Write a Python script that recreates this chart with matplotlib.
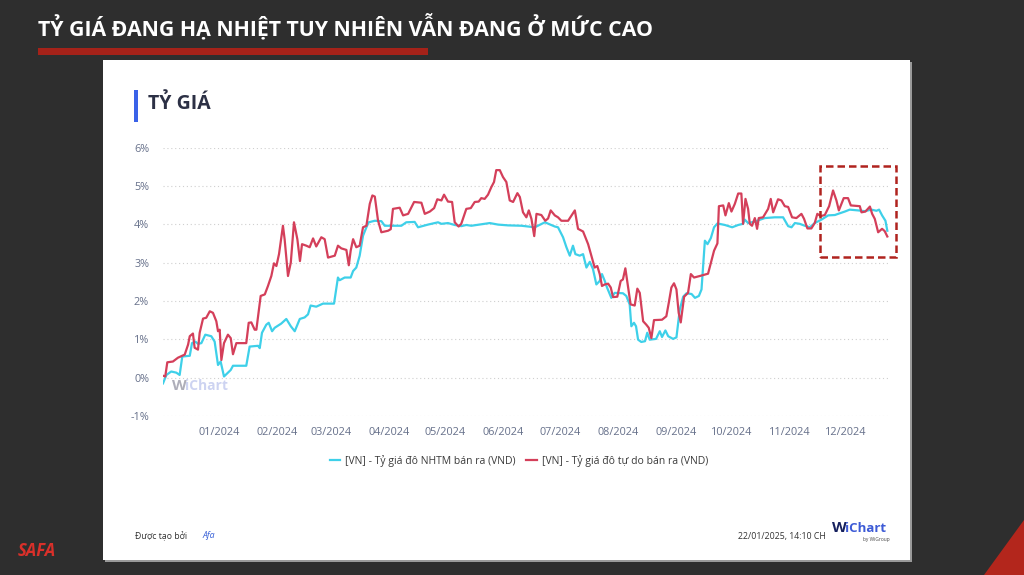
import numpy as np
import pandas as pd
import matplotlib
matplotlib.use("Agg")
import matplotlib.pyplot as plt
import matplotlib.dates as mdates
from matplotlib.patches import Rectangle, Polygon

plt.rcParams['font.family'] = ['Open Sans', 'DejaVu Sans']

# ngày tính từ 02/12/2023
start = pd.Timestamp('2023-12-02')

# [VN] - Tỷ giá đô tự do bán ra (VND), % thay đổi
tudo_days = [0, 1.2, 2.3, 5.3, 8.0, 11.6, 13.4, 14.3, 16.0, 16.9, 18.7, 19.6, 21.4, 23.1, 25.0,
             26.7, 28.5, 29.4, 30.3, 31.2, 32.6, 34.7, 36.2, 37.4, 39.2, 44.5, 45.8, 47.2, 49.0,
             49.9, 52.2, 54.4, 56.1, 57.9, 59.3, 60.6, 62.0, 64.1, 65.0, 66.8, 68.3, 70.0, 71.8,
             73.2, 74.3, 76.6, 78.4, 80.2, 81.9, 84.6, 86.4, 88.2, 91.8, 93.5, 95.3, 98.0, 99.3,
             100.3, 101.6, 103.3, 105.1, 106.9, 108.7, 110.5, 111.9, 113.2, 114.9, 116.7, 120.3,
             121.7, 122.9, 126.5, 128.3, 131.0, 134.2, 138.1, 139.9, 142.6, 144.9, 146.6, 148.8,
             150.2, 152.3, 154.5, 155.9, 158.0, 159.4, 162.1, 164.5, 166.6, 168.7, 170.1, 171.9,
             173.7, 175.5, 176.9, 178.1, 180.0, 181.7, 183.5, 185.3, 187.1, 189.4, 190.7, 192.4,
             194.2, 195.5, 196.9, 198.4, 199.6, 202.2, 204.3, 205.8, 207.2, 209.4, 211.1, 212.9,
             216.5, 220.1, 221.8, 224.5, 227.2, 228.9, 230.7, 232.1, 233.4, 234.6, 236.1, 237.9,
             239.3, 240.5, 242.8, 244.6, 245.8, 247.1, 248.1, 249.9, 252.1, 253.5, 254.8, 256.6,
             258.3, 259.6, 261.0, 262.4, 266.7, 269.0, 270.3, 271.7, 273.1, 274.4, 275.6, 276.7,
             278.5, 280.6, 282.1, 283.8, 286.9, 291.3, 294.5, 296.3, 297.1, 299.4, 300.6, 302.4,
             303.8, 305.6, 307.4, 309.1, 310.0, 311.3, 312.7, 313.6, 314.8, 316.3, 317.5, 318.4,
             320.7, 323.4, 324.8, 326.1, 328.7, 330.5, 332.3, 334.1, 336.2, 338.5, 341.2, 342.6,
             344.4, 346.5, 348.3, 349.7, 351.5, 353.7, 356.0, 358.1, 359.9, 361.2, 363.8, 366.1,
             367.6, 372.4, 373.3, 375.4, 377.8, 379.0, 380.4, 382.2, 384.3, 385.7, 387.1]
tudo_values = [0.05, 0.03, 0.40, 0.42, 0.52, 0.60, 0.86, 1.08, 1.15, 0.78, 0.73, 1.17, 1.54, 1.56, 1.73,
               1.69, 1.47, 1.21, 1.25, 0.46, 0.90, 1.12, 1.03, 0.61, 0.90, 0.90, 1.43, 1.44, 1.25,
               1.25, 2.13, 2.17, 2.39, 2.65, 2.98, 2.91, 3.22, 3.96, 3.61, 2.65, 3.00, 4.05, 3.61,
               3.04, 3.48, 3.44, 3.40, 3.63, 3.42, 3.66, 3.61, 3.13, 3.18, 3.44, 3.37, 3.33, 2.93,
               3.31, 3.61, 3.40, 3.44, 3.92, 3.96, 4.53, 4.75, 4.72, 4.10, 3.79, 3.83,
               3.87, 4.40, 4.43, 4.23, 4.27, 4.58, 4.56, 4.27, 4.33, 4.42, 4.65, 4.62,
               4.77, 4.59, 4.58, 4.05, 3.94, 4.01, 4.40, 4.42, 4.58, 4.59, 4.68, 4.66,
               4.77, 4.97, 5.10, 5.41, 5.41, 5.23, 5.10, 4.62, 4.58, 4.81, 4.71, 4.31,
               4.18, 4.36, 4.14, 3.69, 4.27, 4.24, 4.09, 4.15, 4.36, 4.23, 4.18, 4.09,
               4.09, 4.36, 3.88, 3.81, 3.48, 3.18, 2.87, 2.91, 2.70, 2.39, 2.43, 2.45,
               2.35, 2.10, 2.11, 2.52, 2.56, 2.85, 2.52, 1.91, 1.88, 2.32, 2.21, 1.47,
               1.38, 1.30, 1.03, 1.50, 1.51, 1.60, 1.95, 2.35, 2.46, 2.30, 1.69, 1.44,
               2.11, 2.21, 2.70, 2.61, 2.65, 2.71, 3.31, 3.50, 4.47, 4.49, 4.23, 4.55,
               4.33, 4.53, 4.80, 4.80, 4.01, 4.66, 4.40, 4.01, 3.96, 4.16, 3.88, 4.16,
               4.18, 4.40, 4.66, 4.31, 4.65, 4.62, 4.47, 4.45, 4.18, 4.16, 4.27, 4.14,
               3.89, 3.89, 4.03, 4.27, 4.21, 4.24, 4.47, 4.88, 4.62, 4.36, 4.68, 4.68,
               4.49, 4.47, 4.31, 4.33, 4.46, 4.27, 4.14, 3.79, 3.88, 3.82, 3.68]

# [VN] - Tỷ giá đô NHTM bán ra (VND), % thay đổi
nhtm_days = [0, 1.8, 4.4, 7.1, 8.9, 10.3, 14.3, 15.5, 17.3, 18.7, 20.5, 22.6, 25.8, 27.6, 29.4,
             30.8, 32.6, 34.7, 36.2, 37.4, 44.5, 46.3, 50.8, 51.7, 52.9, 55.2, 56.5, 58.3, 59.7,
             63.2, 65.9, 68.3, 70.4, 73.1, 75.7, 77.5, 78.9, 81.9, 85.5, 91.4, 93.5, 94.4, 97.1,
             100.3, 101.6, 103.3, 105.1, 106.9, 108.7, 109.9, 113.2, 116.7, 118.5, 127.4, 130.0,
             134.5, 136.3, 141.6, 147.0, 148.8, 152.3, 155.9, 159.4, 162.1, 164.8, 174.6, 179.1,
             184.4, 191.6, 198.7, 204.1, 209.4, 211.1, 213.8, 215.6, 217.4, 219.1, 220.4, 222.7,
             224.5, 226.3, 228.1, 229.8, 231.6, 233.4, 234.6, 236.1, 237.3, 239.6, 241.4, 245.8,
             247.6, 249.4, 250.3, 251.7, 252.8, 253.9, 255.6, 257.6, 258.8, 260.1, 263.5, 265.5,
             266.7, 268.5, 270.0, 272.6, 274.4, 276.2, 278.0, 279.8, 282.5, 284.3, 286.4, 287.8,
             289.6, 291.0, 292.8, 294.5, 296.3, 300.3, 304.2, 307.4, 310.0, 310.9, 312.7, 316.3,
             321.6, 327.0, 331.4, 332.7, 334.1, 335.9, 337.7, 340.3, 343.0, 345.7, 348.3, 351.9,
             355.5, 359.1, 360.8, 364.4, 367.0, 371.5, 375.1, 378.6, 381.3, 382.7, 384.3, 386.1,
             387.1]
nhtm_values = [-0.15, 0.07, 0.16, 0.13, 0.07, 0.55, 0.57, 0.90, 0.94, 0.88, 0.90, 1.12, 1.08, 0.94, 0.33,
               0.42, 0.03, 0.13, 0.20, 0.31, 0.31, 0.81, 0.83, 0.77, 1.17, 1.38, 1.43, 1.21, 1.30,
               1.41, 1.53, 1.34, 1.21, 1.53, 1.57, 1.65, 1.88, 1.85, 1.93, 1.93, 2.61, 2.54, 2.61,
               2.61, 2.78, 2.87, 3.18, 3.70, 3.92, 4.05, 4.09, 4.08, 3.96, 3.96, 4.05,
               4.06, 3.92, 3.99, 4.05, 4.01, 4.03, 3.98, 3.95, 3.98, 3.96, 4.03, 3.99,
               3.97, 3.96, 3.92, 4.05, 3.94, 3.92, 3.66, 3.40, 3.18, 3.44, 3.22, 3.18,
               3.22, 2.87, 3.02, 2.83, 2.43, 2.52, 2.70, 2.52, 2.35, 2.08, 2.21, 2.20,
               2.13, 1.91, 1.34, 1.43, 1.34, 0.99, 0.93, 0.95, 1.17, 0.99, 1.01, 1.21,
               1.06, 1.23, 1.08, 1.01, 1.05, 1.78, 2.11, 2.20, 2.18, 2.08, 2.13, 2.30,
               3.57, 3.48, 3.64, 3.92, 4.02, 3.98, 3.92, 3.98, 4.01, 4.12, 4.03, 4.07,
               4.16, 4.18, 4.18, 4.07, 3.95, 3.92, 4.03, 4.01, 3.96, 3.92, 4.03, 4.12,
               4.23, 4.24, 4.27, 4.33, 4.38, 4.36, 4.34, 4.38, 4.35, 4.38, 4.23, 4.09,
               3.83]

nhtm_label = '[VN] - Tỷ giá đô NHTM bán ra (VND)'
tudo_label = '[VN] - Tỷ giá đô tự do bán ra (VND)'

tudo_dates = start + pd.to_timedelta(tudo_days, unit='D')
nhtm_dates = start + pd.to_timedelta(nhtm_days, unit='D')

W, H = 1024, 575
fig = plt.figure(figsize=(W / 100, H / 100), dpi=100)
fig.patch.set_facecolor('#2e2e2e')

# khung trắng
fig.patches.append(Rectangle((105 / W, 1 - 562 / H), 807 / W, 500 / H, transform=fig.transFigure,
                             facecolor='#9a9a9a', edgecolor='none', zorder=-3))
fig.patches.append(Rectangle((103 / W, 1 - 560 / H), 807 / W, 500 / H, transform=fig.transFigure,
                             facecolor='white', edgecolor='none', zorder=-2))
# gạch đỏ dưới tiêu đề
fig.patches.append(Rectangle((38 / W, 1 - 55 / H), 390 / W, 7 / H, transform=fig.transFigure,
                             facecolor='#a52219', edgecolor='none', zorder=-1))
# thanh xanh
fig.patches.append(Rectangle((134 / W, 1 - 122 / H), 4 / W, 32 / H, transform=fig.transFigure,
                             facecolor='#3a62e8', edgecolor='none', zorder=-1))
# tam giác đỏ góc phải
fig.patches.append(Polygon([(1.0, 0.0), (984 / W, 0.0), (1.0, 1 - 520 / H)], closed=True,
                           transform=fig.transFigure, facecolor='#b3261c', edgecolor='none', zorder=-1))

fig.text(38 / W, 1 - 27 / H, 'TỶ GIÁ ĐANG HẠ NHIỆT TUY NHIÊN VẪN ĐANG Ở MỨC CAO',
         color='white', fontsize=15.3, fontweight='bold', va='center', ha='left')
fig.text(148 / W, 1 - 104 / H, 'TỶ GIÁ', color='#2c3045', fontsize=14,
         fontweight='bold', va='center', ha='left')

ax = fig.add_axes([163 / W, 1 - 416 / H, (889 - 163) / W, (416 - 147.5) / H])
ax.set_facecolor('none')

ax.plot(nhtm_dates, nhtm_values, color='#3ed0e9', lw=1.6, label=nhtm_label, zorder=3)
ax.plot(tudo_dates, tudo_values, color='#d43f5a', lw=1.6, label=tudo_label, zorder=4)

ax.set_ylim(-1, 6)
ax.set_yticks(range(-1, 7))
ax.set_yticklabels([f'{v}%' for v in range(-1, 7)])
ax.set_xlim(start, start + pd.Timedelta(days=388))
ax.set_xticks(pd.date_range('2024-01-01', '2024-12-01', freq='MS'))
ax.xaxis.set_major_formatter(mdates.DateFormatter('%m/%Y'))

ax.grid(axis='y', color='#cfcfcf', linestyle=(0, (1, 2.5)), lw=0.8)
ax.grid(axis='x', visible=False)
for s in ax.spines.values():
    s.set_visible(False)
ax.tick_params(axis='both', length=0, labelsize=7.8, colors='#66708a')
ax.tick_params(axis='y', pad=10)
ax.tick_params(axis='x', pad=8)

# khung nét đứt
box_x0 = start + pd.Timedelta(days=351)
ax.add_patch(Rectangle((mdates.date2num(box_x0), 3.14), 41, 5.53 - 3.14, fill=False,
                       edgecolor='#b0231e', lw=1.8, linestyle=(0, (3, 1.6)), clip_on=False, zorder=5))

# watermark
ax.text(0.012, 0.11, 'W', transform=ax.transAxes, fontsize=11, fontweight='bold',
        color='#9a9aa8', alpha=0.8, va='center')
ax.text(0.030, 0.11, 'iChart', transform=ax.transAxes, fontsize=10, fontweight='bold',
        color='#c8cff0', alpha=0.9, va='center')

leg = ax.legend(loc='center', bbox_to_anchor=(519 / W, 1 - 461 / H), bbox_transform=fig.transFigure,
                ncol=2, frameon=False, fontsize=7.5, handlelength=1.0, handletextpad=0.5,
                columnspacing=1.0)
for t in leg.get_texts():
    t.set_color('#3a3a3a')

# chân trang
fig.text(135 / W, 1 - 536 / H, 'Được tạo bởi', fontsize=6.3, color='#333333', va='center')
fig.text(203 / W, 1 - 536 / H, 'Afa', fontsize=6.3, color='#3b63d8', style='italic', va='center')
fig.text(826 / W, 1 - 536 / H, '22/01/2025, 14:10 CH', fontsize=6.3, color='#333333',
         va='center', ha='right')
fig.text(832 / W, 1 - 528 / H, 'W', fontsize=11, fontweight='bold', color='#16215e', va='center')
fig.text(845 / W, 1 - 529 / H, 'iChart', fontsize=9.5, fontweight='bold', color='#3d5bd6', va='center')
fig.text(890 / W, 1 - 540 / H, 'by WiGroup', fontsize=3.5, color='#444444', va='center', ha='right')
fig.text(18 / W, 1 - 551 / H, 'SAFA', fontsize=12, fontweight='bold', style='italic',
         color='#d9302a', va='center')

fig.savefig('out.png', dpi=100, facecolor=fig.get_facecolor())
